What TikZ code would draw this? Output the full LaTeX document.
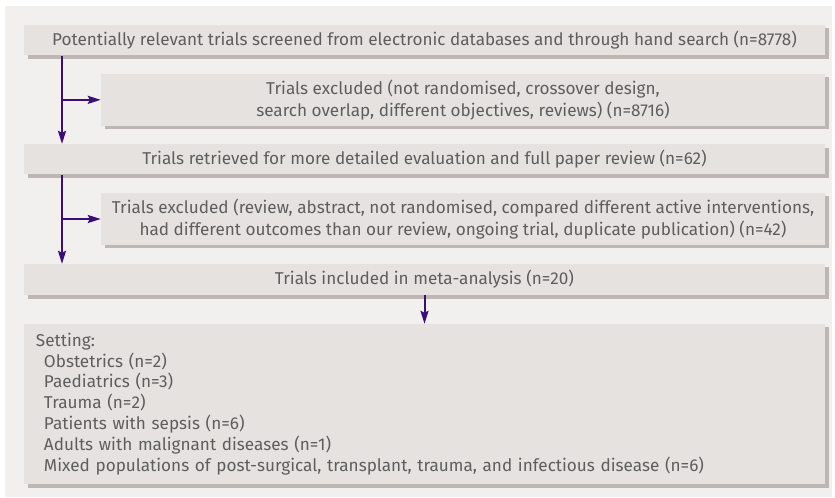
\documentclass[tikz,border=0pt]{standalone}
\usepackage{fontspec}
\setmainfont{Fira Sans}
\usetikzlibrary{arrows.meta,shadows}

\definecolor{pagebg}{HTML}{F1F0EF}
\definecolor{boxfill}{HTML}{E5E2DF}
\definecolor{boxshadow}{HTML}{BDB6B2}
\definecolor{flowline}{HTML}{3B0E78}
\definecolor{boxtext}{HTML}{5E5E5E}

\tikzset{
  flowbox/.style={
    fill=boxfill, draw=none, inner sep=0pt, anchor=center,
    text=boxtext, font=\fontsize{17.2}{22.3}\selectfont, align=center,
    general shadow={fill=boxshadow, shadow xshift=4bp, shadow yshift=-3.5bp}
  },
  flowarrow/.style={
    draw=flowline, line width=2bp,
    -{Stealth[length=13bp,width=8bp,inset=2bp]}
  }
}

\begin{document}
\begin{tikzpicture}[x=1bp,y=-1bp]
  \useasboundingbox (0,0) rectangle (835,498);
  \fill[pagebg] (5,6) rectangle (832,497);

  \node[flowbox, minimum width=801bp, minimum height=30.5bp] (b1) at (424.5,40.25)
    {Potentially relevant trials screened from electronic databases and through hand search (n=8778)};
  \node[flowbox, minimum width=724bp, minimum height=51.7bp] (b2) at (463,99.85)
    {Trials excluded (not randomised, crossover design,\\search overlap, different objectives, reviews) (n=8716)};
  \node[flowbox, minimum width=801bp, minimum height=30.3bp] (b3) at (424.5,159.2)
    {Trials retrieved for more detailed evaluation and full paper review (n=62)};
  \node[flowbox, minimum width=724bp, minimum height=52bp] (b4) at (463,219)
    {Trials excluded (review, abstract, not randomised, compared different active interventions,\\had different outcomes than our review, ongoing trial, duplicate publication) (n=42)};
  \node[flowbox, minimum width=801bp, minimum height=31bp] (b5) at (424.5,279.5)
    {Trials included in meta-analysis (n=20)};
  \node[flowbox, minimum width=801bp, minimum height=160bp, text width=777bp,
        align=left, font=\fontsize{17.2}{21}\selectfont] (b6) at (424.5,404)
    {Setting:\\
     \hspace*{8bp}Obstetrics (n=2)\\
     \hspace*{8bp}Paediatrics (n=3)\\
     \hspace*{8bp}Trauma (n=2)\\
     \hspace*{8bp}Patients with sepsis (n=6)\\
     \hspace*{8bp}Adults with malignant diseases (n=1)\\
     \hspace*{8bp}Mixed populations of post-surgical, transplant, trauma, and infectious disease (n=6)};

  % left-hand trunk of the flow with side branches to the exclusion boxes
  \coordinate (trunk) at (62,0);
  \draw[flowarrow] (trunk |- b1.south) -- (trunk |- b3.north);
  \draw[flowarrow] (trunk |- b2.west) -- (b2.west);
  \draw[flowarrow] (trunk |- b3.south) -- (trunk |- b5.north);
  \draw[flowarrow] (trunk |- b4.west) -- (b4.west);
  \draw[flowarrow] (b5.south) -- (b6.north);
\end{tikzpicture}
\end{document}
